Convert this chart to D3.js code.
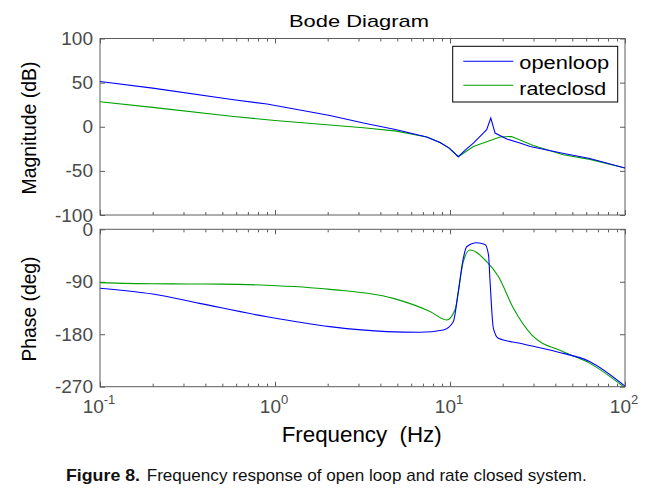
<!DOCTYPE html>
<html><head><meta charset="utf-8">
<script src="https://cdn.jsdelivr.net/npm/d3@7"></script>
<style>body{margin:0;background:#fff}svg{display:block}text{font-family:"Liberation Sans",Arial,sans-serif}</style>
</head><body><svg id="c" width="657" height="491"></svg>
<script>
// ---- data ----
const seriesNames = ["openloop", "rateclosd"];
const magTicks = [-100, -50, 0, 50, 100];
const phaseTicks = [-270, -180, -90, 0];
const decadeTicks = [0.1, 1, 10, 100];
const decadeLabels = [["10", "-1"], ["10", "0"], ["10", "1"], ["10", "2"]];

const openMagFreq = [0.1, 0.2, 0.58, 0.9, 2.06, 3.2, 4.95, 7.36, 8.77, 9.9, 11.15, 12.3, 13.6, 15.5, 16.2, 17.1, 18.1, 21.1, 25.1, 28.7, 44, 63, 100];
const openMag     = [51.3, 43.8, 30.6, 25.7, 12.8, 4.2, -3.4, -11.7, -17.8, -24.2, -34, -26, -18.5, -7.2, -3.4, 9.8, -7.2, -13.9, -18.5, -22.3, -30, -36, -46.8];
const rateMagFreq = [0.1, 0.2, 0.58, 1, 2.06, 3.2, 4.95, 7.36, 8.77, 9.9, 11.15, 13.6, 19.3, 22.5, 29.9, 44.4, 63, 100];
const rateMag     = [28.3, 22, 11.7, 7, 1.9, -1.1, -5, -11.7, -17.8, -24.2, -34, -22.3, -11.7, -11, -21.2, -31.7, -37, -46.8];

const openPhFreq = [0.1, 0.2, 0.37, 0.9, 2.06, 4.35, 6.74, 9.16, 10.44, 11.15, 11.91, 12.45, 14.2, 15.85, 16.6, 16.9, 17.7, 18.9, 25.1, 40.7, 63.1, 100];
const openPh     = [-101, -111, -127, -150, -167, -175.5, -176.5, -172.6, -158.5, -107, -50, -30, -23, -26, -44, -84, -170, -187, -195.5, -210, -227, -269];
const ratePhFreq = [0.1, 0.2, 0.5, 0.9, 2.06, 4.74, 7.69, 9.58, 10.68, 11.91, 13, 16.2, 18.9, 23, 29.3, 44.4, 63.1, 100];
const ratePh     = [-91.5, -93.5, -94, -96, -103, -118.5, -141, -155.5, -138, -55.5, -35.5, -55.5, -81, -135, -181, -210, -230, -272];

// ---- drawing ----
const svg = d3.select("#c");
const L = 100, R = 625;
const magTop = 38.5, magBot = 215, phTop = 229.3, phBot = 386.7;
const x = d3.scaleLog().domain([0.1, 100]).range([L, R]);
const yMag = d3.scaleLinear().domain([-100, 100]).range([magBot, magTop]);
const yPh = d3.scaleLinear().domain([-270, 0]).range([phBot, phTop]);
const axisCol = "#5c5c5c", labCol = "#4a4a4a";
const blue = "#0000ff", green = "#00a000";

const minors = [];
[0.1, 1, 10].forEach(d => { for (let k = 2; k <= 9; k++) minors.push(d * k); });

function panel(y, top, bot, ticks, id) {
  svg.append("clipPath").attr("id", id).append("rect")
    .attr("x", L).attr("y", top).attr("width", R - L).attr("height", bot - top);
  const g = svg.append("g");
  const style = s => { s.select(".domain").remove(); s.selectAll("line").attr("stroke", axisCol); };
  g.append("g").attr("transform", `translate(0,${bot})`).call(d3.axisBottom(x).tickValues(decadeTicks).tickSize(-5).tickFormat("")).call(style);
  g.append("g").attr("transform", `translate(0,${bot})`).call(d3.axisBottom(x).tickValues(minors).tickSize(-3).tickFormat("")).call(style);
  g.append("g").attr("transform", `translate(0,${top})`).call(d3.axisTop(x).tickValues(decadeTicks).tickSize(-5).tickFormat("")).call(style);
  g.append("g").attr("transform", `translate(0,${top})`).call(d3.axisTop(x).tickValues(minors).tickSize(-3).tickFormat("")).call(style);
  g.append("g").attr("transform", `translate(${R},0)`).call(d3.axisRight(y).tickValues(ticks).tickSize(-5).tickFormat("")).call(style);
  const la = g.append("g").attr("transform", `translate(${L},0)`)
    .call(d3.axisLeft(y).tickValues(ticks).tickSize(-5).tickPadding(7).tickFormat(d3.format("d"))).call(style);
  la.selectAll("text").attr("font-size", 19).attr("fill", labCol)
    .attr("font-family", '"Liberation Sans",Arial,sans-serif').text(d => String(d));
  g.append("rect").attr("x", L).attr("y", top).attr("width", R - L).attr("height", bot - top)
    .attr("fill", "none").attr("stroke", axisCol).attr("stroke-width", 1);
}
panel(yMag, magTop, magBot, magTicks, "cm");
panel(yPh, phTop, phBot, phaseTicks, "cp");

function drawLine(fr, vals, y, clip, col, curve) {
  const pts = fr.map((f, i) => [f, vals[i]]);
  svg.append("path").datum(pts).attr("clip-path", `url(#${clip})`)
    .attr("d", d3.line().x(d => x(d[0])).y(d => y(d[1])).curve(curve))
    .attr("fill", "none").attr("stroke", col).attr("stroke-width", 1.1);
}
drawLine(rateMagFreq, rateMag, yMag, "cm", green, d3.curveLinear);
drawLine(openMagFreq, openMag, yMag, "cm", blue, d3.curveLinear);
drawLine(ratePhFreq, ratePh, yPh, "cp", green, d3.curveMonotoneX);
drawLine(openPhFreq, openPh, yPh, "cp", blue, d3.curveMonotoneX);

// x tick labels
decadeTicks.forEach((d, i) => {
  const t = svg.append("text").attr("x", x(d) - 1).attr("y", 413.3).attr("text-anchor", "middle")
    .attr("fill", labCol).attr("font-size", 19);
  t.append("tspan").text(decadeLabels[i][0]);
  t.append("tspan").attr("dy", -9).attr("font-size", 13).text(decadeLabels[i][1]);
});

// titles
svg.append("text").attr("x", 359).attr("y", 26.7).attr("text-anchor", "middle").attr("font-size", 17)
  .attr("textLength", 140).attr("lengthAdjust", "spacingAndGlyphs").attr("fill", "#000").text("Bode Diagram");
svg.append("text").attr("transform", "translate(36,128) rotate(-90)").attr("text-anchor", "middle")
  .attr("font-size", 19.5).attr("textLength", 133).attr("lengthAdjust", "spacingAndGlyphs").attr("fill", "#000").text("Magnitude (dB)");
svg.append("text").attr("transform", "translate(36,309) rotate(-90)").attr("text-anchor", "middle")
  .attr("font-size", 19.5).attr("textLength", 105).attr("lengthAdjust", "spacingAndGlyphs").attr("fill", "#000").text("Phase (deg)");
svg.append("text").attr("x", 361.7).attr("y", 441.7).attr("text-anchor", "middle").attr("font-size", 22)
  .style("white-space", "pre").attr("textLength", 160).attr("lengthAdjust", "spacingAndGlyphs").attr("fill", "#000").text("Frequency  (Hz)");

// legend
const lg = svg.append("g");
lg.append("rect").attr("x", 452.7).attr("y", 46.3).attr("width", 165).attr("height", 55.7)
  .attr("fill", "#fff").attr("stroke", "#000").attr("stroke-width", 1);
const legY = [61.3, 85.3], legTY = [68.7, 95.3], legW = [90, 87], legC = [blue, green];
seriesNames.forEach((n, i) => {
  lg.append("line").attr("x1", 463.3).attr("x2", 513.3).attr("y1", legY[i]).attr("y2", legY[i])
    .attr("stroke", legC[i]).attr("stroke-width", 1.1);
  lg.append("text").attr("x", 519.3).attr("y", legTY[i]).attr("font-size", 17.5)
    .attr("textLength", legW[i]).attr("lengthAdjust", "spacingAndGlyphs").attr("fill", "#000").text(n);
});

// caption
svg.append("text").attr("x", 66).attr("y", 481).attr("font-size", 17).attr("font-weight", "bold")
  .attr("textLength", 74).attr("lengthAdjust", "spacingAndGlyphs").attr("fill", "#111").text("Figure 8.");
svg.append("text").attr("x", 146.7).attr("y", 481).attr("font-size", 17)
  .attr("textLength", 440).attr("lengthAdjust", "spacingAndGlyphs").attr("fill", "#111")
  .text("Frequency response of open loop and rate closed system.");
</script></body></html>
